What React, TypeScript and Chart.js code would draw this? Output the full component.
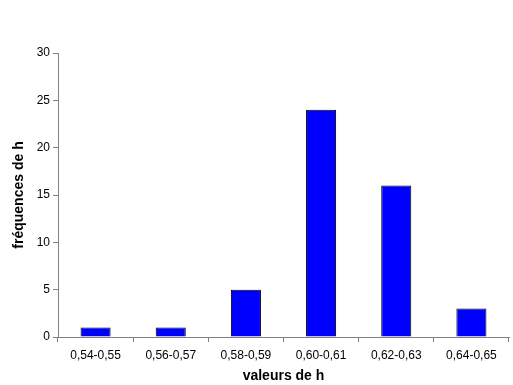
import React, { useEffect, useRef } from "react";
import { Chart, registerables } from "chart.js";

Chart.register(...registerables);

const categories = ["0,54-0,55", "0,56-0,57", "0,58-0,59", "0,60-0,61", "0,62-0,63", "0,64-0,65"];
const frequencies = [1, 1, 5, 24, 16, 3];
const yMin = 0;
const yMax = 30;
const yStep = 5;
const xTitle = "valeurs de h";
const yTitle = "fréquences de h";

export default function App() {
  const ref = useRef<HTMLCanvasElement | null>(null);

  useEffect(() => {
    document.body.style.margin = "0";
    const canvas = ref.current;
    if (!canvas) return;
    const axisColor = "#808080";
    const font = { family: "'Liberation Sans', Arial, sans-serif", size: 12 };
    const titleFont = { family: "'Liberation Sans', Arial, sans-serif", size: 14, weight: "bold" as const };
    const chart = new Chart(canvas, {
      type: "bar",
      data: {
        labels: categories,
        datasets: [
          {
            data: frequencies,
            backgroundColor: "#0000ff",
            borderColor: "#000000",
            borderWidth: 1,
            barPercentage: 0.4,
            categoryPercentage: 1,
          },
        ],
      },
      options: {
        responsive: false,
        animation: false,
        layout: { padding: { top: 53, right: 4, left: 0, bottom: 0 } },
        plugins: { legend: { display: false }, tooltip: { enabled: false } },
        scales: {
          x: {
            offset: true,
            grid: {
              offset: true,
              drawOnChartArea: false,
              drawTicks: true,
              tickLength: 5,
              tickColor: axisColor,
            },
            border: { color: axisColor, width: 1 },
            ticks: { color: "#000", font, padding: 6, maxRotation: 0, autoSkip: false },
            title: { display: true, text: xTitle, color: "#000", font: titleFont, padding: { top: 0, bottom: 0 } },
            afterFit: (s: any) => {
              s.height = 48;
            },
          },
          y: {
            min: yMin,
            max: yMax,
            grid: {
              drawOnChartArea: false,
              drawTicks: true,
              tickLength: 5,
              tickColor: axisColor,
            },
            border: { color: axisColor, width: 1 },
            ticks: { stepSize: yStep, color: "#000", font, padding: 3 },
            title: { display: true, text: yTitle, color: "#000", font: titleFont, padding: { top: 11, bottom: 0 } },
            afterFit: (s: any) => {
              s.width = 58;
            },
          },
        },
      },
    });
    return () => chart.destroy();
  }, []);

  return (
    <div style={{ position: "absolute", left: 0, top: 0, width: 513, height: 385, background: "#fff" }}>
      <canvas ref={ref} width={513} height={385} />
    </div>
  );
}
